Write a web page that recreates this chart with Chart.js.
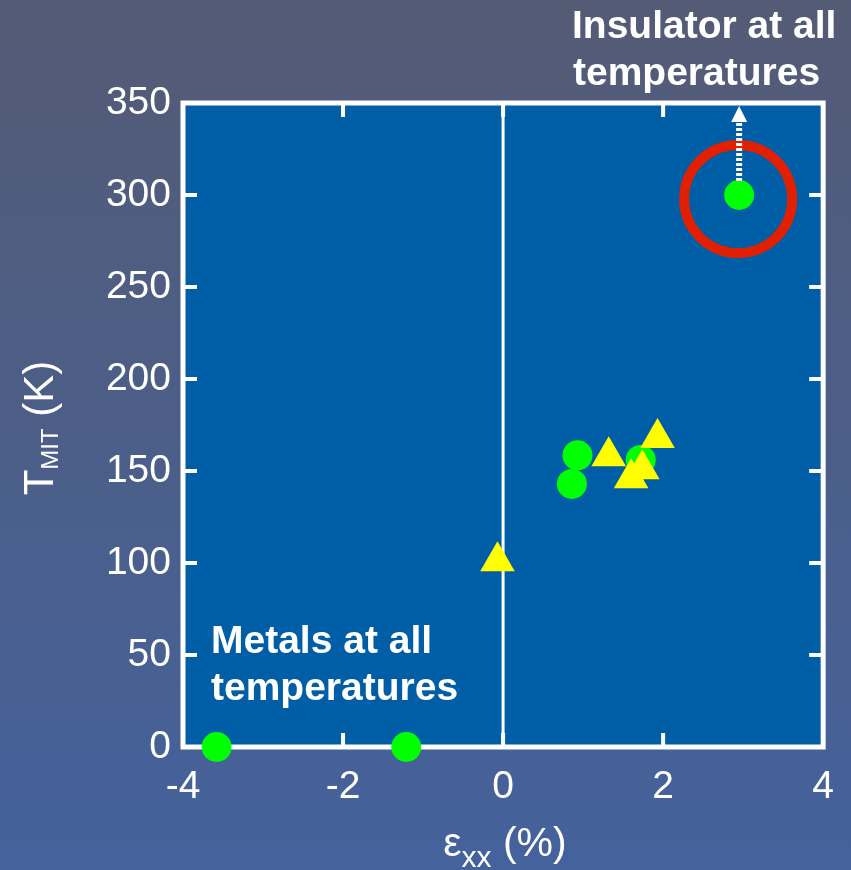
<!DOCTYPE html>
<html><head><meta charset="utf-8">
<script src="https://cdn.jsdelivr.net/npm/chart.js@4/dist/chart.umd.min.js"></script>
<style>html,body{margin:0;padding:0;background:#4c5f8a}#wrap{width:851px;height:870px;position:relative}</style>
</head><body><div id="wrap"><canvas id="c" width="851" height="870"></canvas></div>
<script>
// Data
const xTicks = [-4, -2, 0, 2, 4];
const yTicks = [0, 50, 100, 150, 200, 250, 300, 350];
const circleX = [-3.58, -1.21, 0.93, 0.86, 1.72, 2.95];
const circleY = [0, 0, 158.5, 143, 156, 300];
const triangleX = [-0.07, 1.32, 1.93, 1.74, 1.60];
const triangleY = [101, 158, 168, 151, 146];
const insulatorLabel = ["Insulator at all", "temperatures"];
const metalLabel = ["Metals at all", "temperatures"];

const FONT = "'Liberation Sans', Arial, sans-serif";

const decor = {
  id: 'decor',
  beforeDraw(chart) {
    const ctx = chart.ctx, a = chart.chartArea;
    const g = ctx.createLinearGradient(0, 0, 0, 870);
    g.addColorStop(0, '#545b75');
    g.addColorStop(1, '#44629c');
    ctx.save();
    ctx.fillStyle = g;
    ctx.fillRect(0, 0, 851, 870);
    ctx.fillStyle = '#005ea6';
    ctx.fillRect(a.left, a.top, a.right - a.left, a.bottom - a.top);
    ctx.restore();
  },
  beforeDatasetsDraw(chart) {
    const ctx = chart.ctx, a = chart.chartArea;
    const xs = chart.scales.x, ys = chart.scales.y;
    ctx.save();
    ctx.strokeStyle = '#ffffff';
    ctx.lineWidth = 3;
    const x0 = xs.getPixelForValue(0);
    ctx.beginPath(); ctx.moveTo(x0, a.top); ctx.lineTo(x0, a.bottom); ctx.stroke();
    ctx.lineWidth = 5;
    ctx.strokeRect(a.left, a.top, a.right - a.left, a.bottom - a.top);
    const tl = 14;
    ctx.lineWidth = 4;
    ctx.beginPath();
    xTicks.forEach(v => {
      if (v === -4 || v === 4) return;
      const p = xs.getPixelForValue(v);
      ctx.moveTo(p, a.bottom); ctx.lineTo(p, a.bottom - tl);
      ctx.moveTo(p, a.top); ctx.lineTo(p, a.top + tl);
    });
    yTicks.forEach(v => {
      if (v === 0 || v === 350) return;
      const p = ys.getPixelForValue(v);
      ctx.moveTo(a.left, p); ctx.lineTo(a.left + tl, p);
      ctx.moveTo(a.right, p); ctx.lineTo(a.right - tl, p);
    });
    ctx.stroke();
    ctx.restore();
  },
  afterDatasetsDraw(chart) {
    const ctx = chart.ctx;
    const xs = chart.scales.x, ys = chart.scales.y;
    const px = xs.getPixelForValue(circleX[5]);
    const py = ys.getPixelForValue(circleY[5]);
    ctx.save();
    // red ring
    ctx.strokeStyle = '#e02000';
    ctx.lineWidth = 10;
    ctx.beginPath(); ctx.arc(px - 1, py + 4, 54, 0, Math.PI * 2); ctx.stroke();
    // dotted arrow
    ctx.strokeStyle = '#ffffff';
    ctx.lineWidth = 6;
    ctx.setLineDash([3, 2]);
    ctx.beginPath(); ctx.moveTo(px, py - 14); ctx.lineTo(px, py - 73); ctx.stroke();
    ctx.setLineDash([]);
    ctx.fillStyle = '#ffffff';
    ctx.beginPath();
    ctx.moveTo(px, py - 89); ctx.lineTo(px - 8, py - 73); ctx.lineTo(px + 8, py - 73); ctx.closePath(); ctx.fill();
    // annotation text
    ctx.fillStyle = '#ffffff';
    ctx.font = 'bold 39px ' + FONT;
    ctx.textAlign = 'left';
    ctx.textBaseline = 'alphabetic';
    ctx.fillText(insulatorLabel[0], 572, 38);
    ctx.fillText(insulatorLabel[1], 573, 85);
    ctx.fillText(metalLabel[0], 211, 653);
    ctx.fillText(metalLabel[1], 211, 700);
    // x title
    const xParts = [['\u03b5', 41, 0], ['xx', 30, 11], [' (%)', 41, 0]];
    let w = 0;
    xParts.forEach(p => { ctx.font = p[1] + 'px ' + FONT; w += ctx.measureText(p[0]).width; });
    let cx = 505 - w / 2;
    xParts.forEach(p => { ctx.font = p[1] + 'px ' + FONT; ctx.fillText(p[0], cx, 856 + p[2]); cx += ctx.measureText(p[0]).width; });
    // y title
    ctx.translate(53, 428);
    ctx.rotate(-Math.PI / 2);
    const yParts = [['T', 42, 0], ['MIT', 24, 5], [' (K)', 42, 0]];
    w = 0;
    yParts.forEach(p => { ctx.font = p[1] + 'px ' + FONT; w += ctx.measureText(p[0]).width; });
    cx = -w / 2;
    yParts.forEach(p => { ctx.font = p[1] + 'px ' + FONT; ctx.fillText(p[0], cx, p[2]); cx += ctx.measureText(p[0]).width; });
    ctx.restore();
  }
};

new Chart(document.getElementById('c'), {
  type: 'scatter',
  data: {
    datasets: [
      {
        label: 'triangles',
        data: triangleX.map((x, i) => ({ x, y: triangleY[i] })),
        pointStyle: 'triangle',
        pointRadius: 20,
        backgroundColor: '#ffff00',
        borderColor: '#ffff00',
        borderWidth: 0,
        clip: false
      },
      {
        label: 'circles',
        data: circleX.map((x, i) => ({ x, y: circleY[i] })),
        pointStyle: 'circle',
        pointRadius: 15,
        backgroundColor: '#00ff00',
        borderColor: '#00ff00',
        borderWidth: 0,
        clip: false
      }
    ]
  },
  options: {
    responsive: false,
    animation: false,
    events: [],
    layout: { padding: { left: 0, right: 25, top: 103, bottom: 0 } },
    plugins: { legend: { display: false }, tooltip: { enabled: false } },
    scales: {
      x: {
        type: 'linear', min: -4, max: 4,
        afterBuildTicks: s => { s.ticks = xTicks.map(v => ({ value: v })); },
        afterFit: s => { s.height = 123; },
        grid: { display: false, drawTicks: false },
        border: { display: false },
        ticks: { color: '#ffffff', font: { family: FONT, size: 39 }, padding: 17, maxRotation: 0, autoSkip: false }
      },
      y: {
        type: 'linear', min: 0, max: 350,
        afterBuildTicks: s => { s.ticks = yTicks.map(v => ({ value: v })); },
        afterFit: s => { s.width = 183; },
        grid: { display: false, drawTicks: false },
        border: { display: false },
        ticks: { color: '#ffffff', font: { family: FONT, size: 39 }, padding: 12, autoSkip: false }
      }
    }
  },
  plugins: [decor]
});
</script></body></html>
